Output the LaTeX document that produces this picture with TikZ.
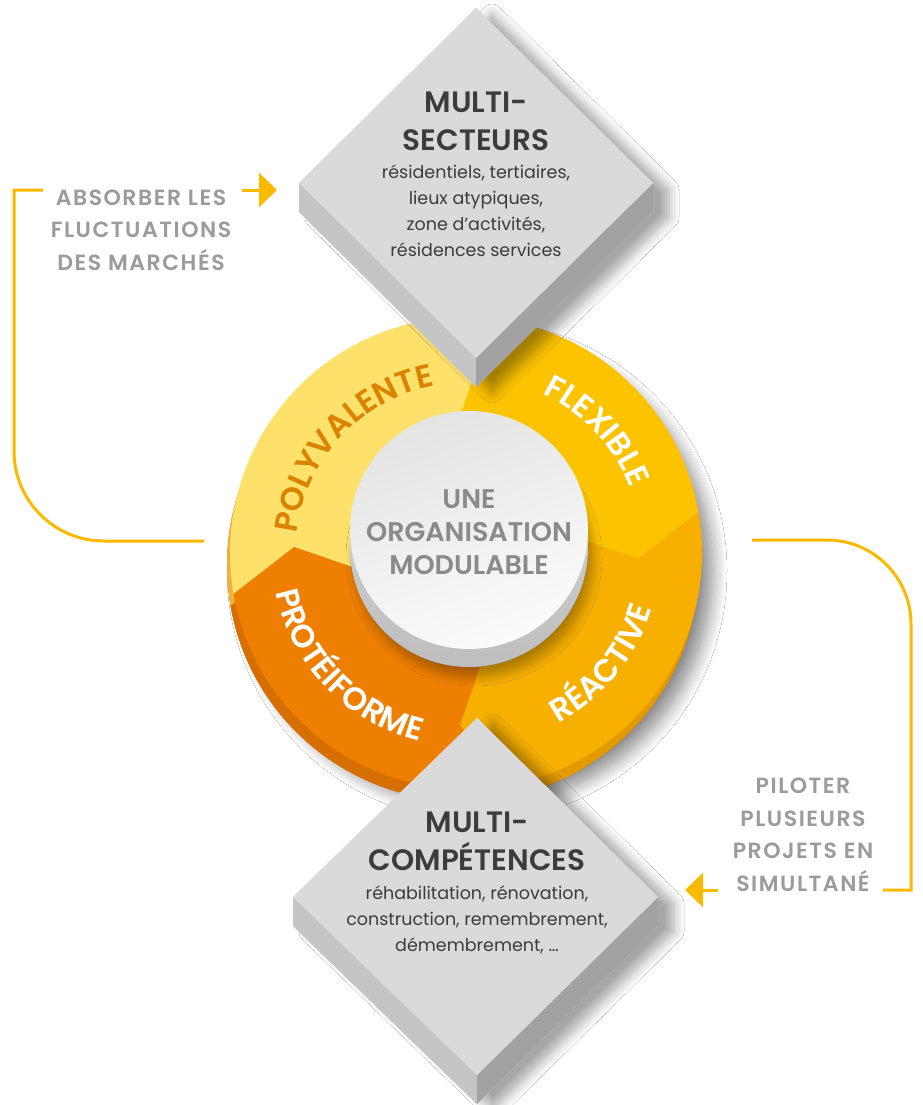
\documentclass[tikz,border=0pt]{standalone}
\usepackage{fontspec}
\setmainfont{Poppins}
\newfontfamily\semib{Poppins SemiBold}
\newfontfamily\semibls{Poppins SemiBold}[LetterSpace=7]
\usetikzlibrary{arrows.meta,decorations.text,shadows.blur}
\definecolor{polyc}{HTML}{FDE16B}
\definecolor{flexc}{HTML}{FDC300}
\definecolor{reacc}{HTML}{F7AF00}
\definecolor{protc}{HTML}{EE7F00}
\definecolor{polyr}{HTML}{F0B03A}
\definecolor{flexr}{HTML}{EAA800}
\definecolor{reacr}{HTML}{E39A00}
\definecolor{protr}{HTML}{D66E00}
\definecolor{linec}{HTML}{FBBA00}
\definecolor{topface}{HTML}{DADADA}
\definecolor{sideL}{HTML}{C5C5C5}
\definecolor{sideR}{HTML}{A2A2A2}
\definecolor{darkt}{HTML}{3C3C3C}
\definecolor{sidegray}{HTML}{9B9B9B}
\definecolor{centergray}{HTML}{8A8A8A}
\definecolor{polytext}{HTML}{D98300}
\tikzset{
  conn/.style={draw=linec, line width=3pt},
  arr/.style={conn, -{Triangle[length=18pt,width=34pt]}},
  sidetext/.style={text=sidegray, align=center, font=\fontsize{22}{32.5}\selectfont\semibls, inner sep=0pt},
  headtext/.style={text=darkt, align=center, font=\fontsize{29.5}{38}\selectfont\semib, inner sep=0pt},
  bodytext/.style={text=darkt, align=center, font=\fontsize{17.5}{26}\selectfont, inner sep=0pt},
  centertext/.style={text=centergray, align=center, font=\fontsize{27}{33}\selectfont\semib, inner sep=0pt},
  dshadow/.style={blur shadow={shadow xshift=16pt, shadow yshift=-6pt, shadow blur radius=10pt, shadow blur steps=10, shadow opacity=35}},
}
\begin{document}
\begin{tikzpicture}[x=1pt,y=1pt]
\useasboundingbox (0,0) rectangle (922,-1105);
\fill[white] (0,0) rectangle (922,-1105);

% ---- ring shadow and rim
\fill[protr, blur shadow={shadow xshift=14pt, shadow yshift=-6pt, shadow blur radius=14pt, shadow blur steps=12, shadow opacity=45}] (463,-565) circle[radius=236];
\begin{scope}[shift={(463,-565)}]
  \clip (0,0) circle[radius=236];
  \foreach \a/\c in {10/flexr,100/polyr,190/protr,280/reacr}{
    \pgfmathsetmacro\ai{\a+3}\pgfmathsetmacro\at{\a-12}
    \pgfmathsetmacro\b{\a+90}\pgfmathsetmacro\bi{\b+3}\pgfmathsetmacro\bt{\b-12}
    \fill[\c] (0,0) -- (\ai:95) -- (\at:172) -- (\a:236) -- (\a:300)
      arc[start angle=\a, end angle=\b, radius=300] -- (\b:236) -- (\bt:172) -- (\bi:95) -- cycle;
  }
\end{scope}
% ---- ring face
\begin{scope}[shift={(466,-553)}]
  \clip (0,0) circle[radius=236];
  \foreach \a/\c in {10/flexc,100/polyc,190/protc,280/reacc}{
    \pgfmathsetmacro\ai{\a+3}\pgfmathsetmacro\at{\a-12}
    \pgfmathsetmacro\b{\a+90}\pgfmathsetmacro\bi{\b+3}\pgfmathsetmacro\bt{\b-12}
    \fill[\c] (0,0) -- (\ai:95) -- (\at:172) -- (\a:236) -- (\a:300)
      arc[start angle=\a, end angle=\b, radius=300] -- (\b:236) -- (\bt:172) -- (\bi:95) -- cycle;
  }
  % labels
  \path[decorate, decoration={text along path, text align=center, text color=polytext,
     text={|\fontsize{32}{32}\selectfont\semib|POLYVALENTE}}]
     (180:170) arc[start angle=180, end angle=94, radius=170];
  \path[decorate, decoration={text along path, text align=center, text color=white,
     text={|\fontsize{32}{32}\selectfont\semib|FLEXIBLE}}]
     (84:177) arc[start angle=84, end angle=2, radius=177];
  \path[decorate, decoration={text along path, text align=center, text color=white,
     text={|\fontsize{32}{32}\selectfont\semib|RÉACTIVE}}]
     (281:194) arc[start angle=281, end angle=361, radius=194];
  \path[decorate, decoration={text along path, text align=center, text color=white,
     text={|\fontsize{32}{32}\selectfont\semib|PROTÉIFORME}}]
     (182:194) arc[start angle=182, end angle=266, radius=194];
\end{scope}

% ---- central disc
\fill[black!60, blur shadow={shadow xshift=5pt, shadow yshift=-10pt, shadow blur radius=9pt, shadow blur steps=10, shadow opacity=30}] (469,-548) circle[radius=119];
\shade[top color={rgb,255:red,214;green,214;blue,214}, bottom color={rgb,255:red,190;green,190;blue,190}] (469,-548) circle[radius=119];
\shade[top color={rgb,255:red,228;green,228;blue,228}, bottom color={rgb,255:red,251;green,251;blue,251}, shading angle=20] (469,-530) circle[radius=119];
\node[centertext] (ctr) at (469,-532) {UNE\\ORGANISATION\\MODULABLE};

% ---- top diamond
\fill[topface, dshadow] (476,-8) -- (653,-183) -- (653,-212) -- (476,-387) -- (299,-212) -- (299,-183) -- cycle;
\fill[sideL] (299,-183) -- (476,-358) -- (476,-387) -- (299,-212) -- cycle;
\fill[sideR] (653,-183) -- (476,-358) -- (476,-387) -- (653,-212) -- cycle;
\fill[topface] (476,-8) -- (653,-183) -- (476,-358) -- (299,-183) -- cycle;
\node[headtext] (h1) at (476,-121) {MULTI-\\SECTEURS};
\node[bodytext] (b1) at (476,-211) {résidentiels, tertiaires,\\lieux atypiques,\\zone d’activités,\\résidences services};

% ---- bottom diamond
\fill[topface, dshadow] (477,-718) -- (658,-897) -- (658,-926) -- (477,-1104) -- (293,-926) -- (293,-897) -- cycle;
\fill[sideL] (293,-897) -- (477,-1075) -- (477,-1104) -- (293,-926) -- cycle;
\fill[sideR] (658,-897) -- (477,-1075) -- (477,-1104) -- (658,-926) -- cycle;
\fill[topface] (477,-718) -- (658,-897) -- (477,-1075) -- (293,-897) -- cycle;
\node[headtext] (h2) at (477,-841) {MULTI-\\COMPÉTENCES};
\node[bodytext] (b2) at (477,-920) {réhabilitation, rénovation,\\construction, remembrement,\\démembrement, …};

% ---- side texts and connectors
\node[sidetext] (absorb) at (141,-230) {ABSORBER LES\\FLUCTUATIONS\\DES MARCHÉS};
\node[sidetext] (pilot) at (803,-835) {PILOTER\\PLUSIEURS\\PROJETS EN\\SIMULTANÉ};
\coordinate (ringL) at (204,-541);
\coordinate (absIn) at (43,-190);
\coordinate (absOut) at (242,-190);
\coordinate (topIn) at (277,-190);
\coordinate (ringR) at (752,-540);
\coordinate (pilIn) at (883,-890);
\coordinate (pilOut) at (718,-890);
\coordinate (botIn) at (685,-890);
\draw[conn] (ringL) -- (104,-541) arc[start angle=270, end angle=180, radius=90] -- (14,-190) -- (absIn);
\draw[arr] (absOut) -- (topIn);
\draw[conn] (ringR) -- (827,-540) arc[start angle=90, end angle=0, radius=84] -- (911,-890) -- (pilIn);
\draw[arr] (pilOut) -- (botIn);
\end{tikzpicture}
\end{document}
